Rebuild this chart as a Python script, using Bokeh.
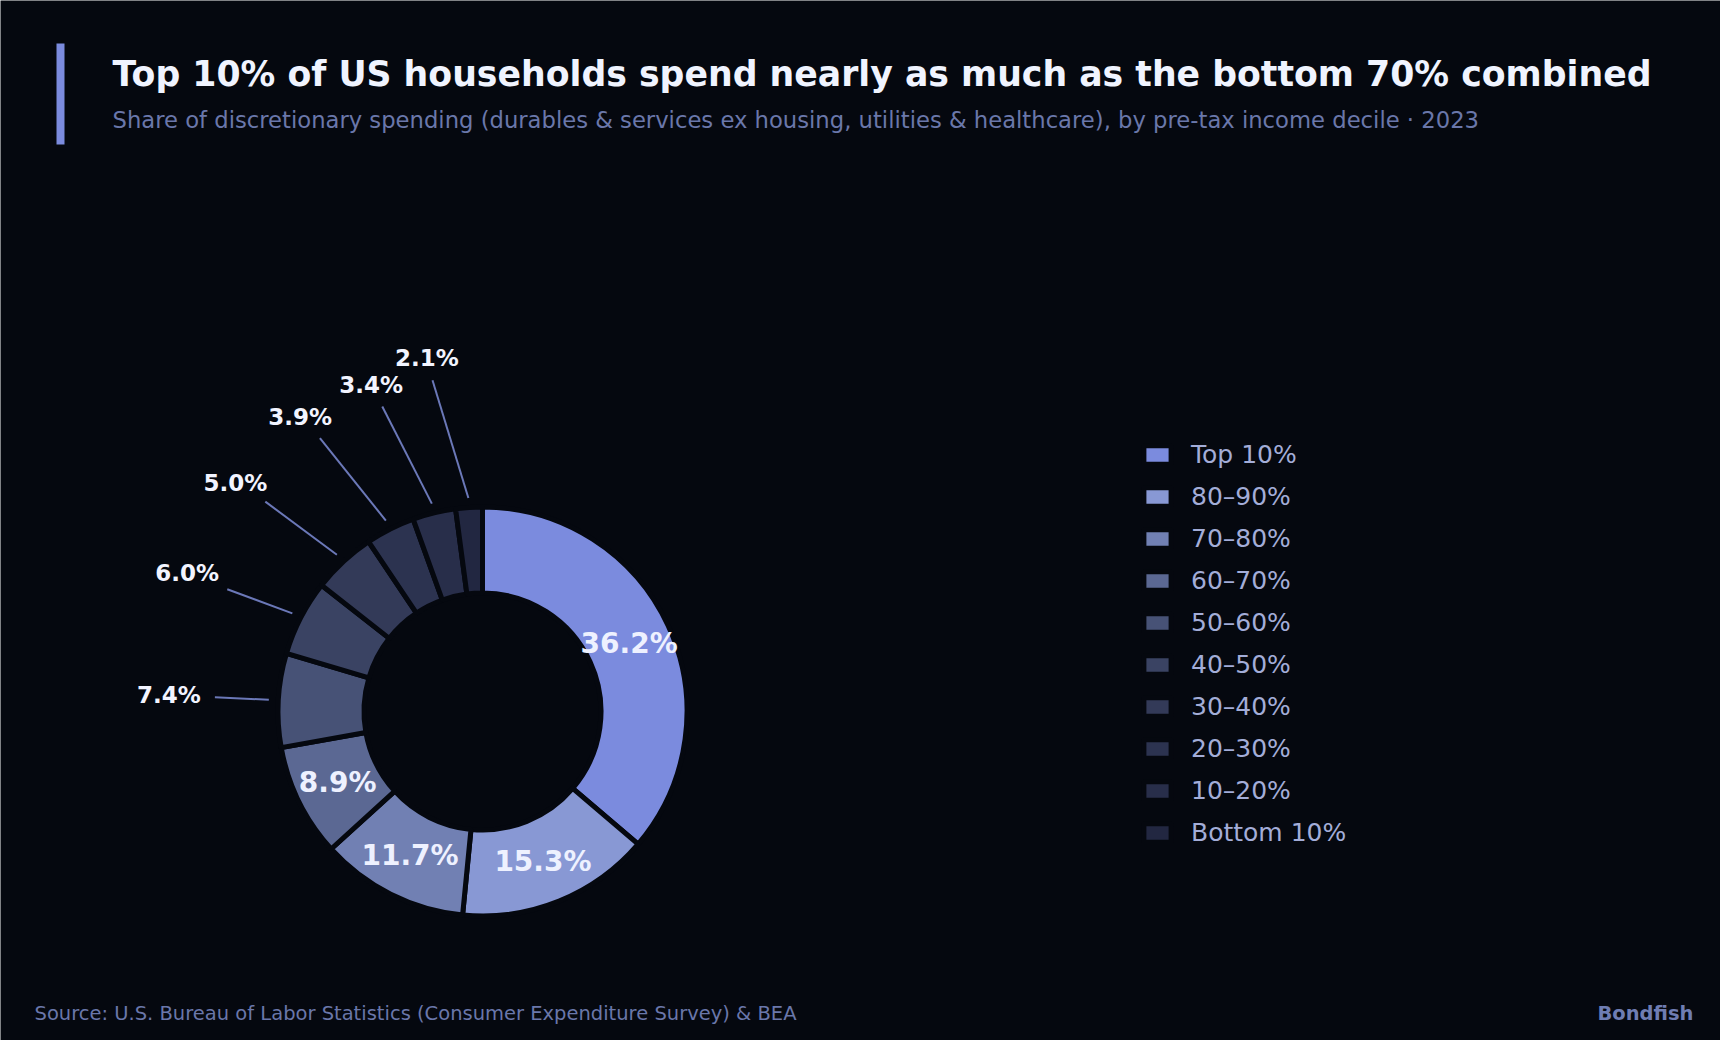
import math
from bokeh.plotting import figure
from bokeh.models import ColumnDataSource, Label, Legend, LegendItem, Range1d
from bokeh.core.properties import value
from bokeh.embed import file_html
from bokeh.resources import INLINE

# ---------------- data ----------------
categories = ["Top 10%", "80–90%", "70–80%", "60–70%", "50–60%",
              "40–50%", "30–40%", "20–30%", "10–20%", "Bottom 10%"]
shares = [36.2, 15.3, 11.7, 8.9, 7.4, 6.0, 5.0, 3.9, 3.4, 2.1]
colors = ["#7b8bde", "#8898d4", "#7180b3", "#5b6893", "#475276",
          "#3a4363", "#333a58", "#2c3350", "#282e4a", "#222741"]

TITLE = "Top 10% of US households spend nearly as much as the bottom 70% combined"
SUBTITLE = ("Share of discretionary spending (durables & services ex housing, "
            "utilities & healthcare), by pre-tax income decile · 2023")
SOURCE = "Source: U.S. Bureau of Labor Statistics (Consumer Expenditure Survey) & BEA"
BRAND = "Bondfish"

# ---------------- layout / style ----------------
W, H = 1720, 1040
BG = "#05080f"
FONT = "DejaVu Sans"
CX, CY = 482, H - 711
R_OUT, R_IN = 202, 121          # visible radii
GAP = 5
INSIDE_MIN = 8.0                # shares at or above this get an inside label
LEAD_START = 214
# outside-label leader ends (radius, angular nudge in degrees), smallest last
LEAD_END_R = [268, 283, 302, 318, 321, 335]
LEAD_NUDGE = [0.1, 1.7, 3.1, 3.9, 4.5, 4.8]
LBL_PAD, LBL_HW, LBL_HH, LBL_DX = 11, 33, 11.5, -2

total = sum(shares)
starts, ends, mids = [], [], []
acc = 0.0
for v in shares:
    a0 = math.pi / 2 - 2 * math.pi * acc / total
    acc += v
    a1 = math.pi / 2 - 2 * math.pi * acc / total
    starts.append(a0)
    ends.append(a1)
    mids.append((a0 + a1) / 2)

p = figure(width=W, height=H, x_range=Range1d(0, W), y_range=Range1d(0, H),
           output_backend="svg", toolbar_location=None, min_border=0,
           x_axis_location=None, y_axis_location=None,
           background_fill_color=BG, border_fill_color=BG, outline_line_color=None)
p.grid.visible = False

src = ColumnDataSource(dict(label=categories, value=shares, start=starts,
                            end=ends, color=colors))
wedges = p.annular_wedge(x=CX, y=CY, inner_radius=R_IN - GAP / 2,
                         outer_radius=R_OUT + GAP / 2,
                         start_angle="start", end_angle="end", direction="clock",
                         fill_color="color", line_color=BG, line_width=GAP,
                         source=src)

# inside labels
in_x, in_y, in_t = [], [], []
rmid = (R_IN + R_OUT) / 2
for v, m in zip(shares, mids):
    if v >= INSIDE_MIN:
        in_x.append(CX + rmid * math.cos(m))
        in_y.append(CY + rmid * math.sin(m))
        in_t.append(f"{v:.1f}%")
p.text(x=in_x, y=in_y, text=in_t, text_align="center", text_baseline="middle",
       text_font=value(FONT), text_font_size="28px", text_font_style="bold",
       text_color="#eef1ff")

# outside labels with leaders
x0s, y0s, x1s, y1s, tx, ty, tt = [], [], [], [], [], [], []
k = 0
for v, m in zip(shares, mids):
    if v >= INSIDE_MIN:
        continue
    x0s.append(CX + LEAD_START * math.cos(m))
    y0s.append(CY + LEAD_START * math.sin(m))
    a = m + math.radians(LEAD_NUDGE[k])
    r = LEAD_END_R[k]
    ex, ey = CX + r * math.cos(a), CY + r * math.sin(a)
    x1s.append(ex)
    y1s.append(ey)
    c, s = math.cos(a), math.sin(a)
    tx.append(ex + LBL_DX + LBL_PAD * c + LBL_HW * math.copysign(abs(c) ** 1.5, c))
    ty.append(ey + LBL_PAD * s + LBL_HH * math.copysign(min(1.0, abs(s) / 0.4), s))
    tt.append(f"{v:.1f}%")
    k += 1
p.segment(x0=x0s, y0=y0s, x1=x1s, y1=y1s, line_color="#6b78b8", line_width=2)
p.text(x=tx, y=ty, text=tt, text_align="center", text_baseline="middle",
       text_font=value(FONT), text_font_size="23px", text_font_style="bold",
       text_color="#f2f4ff")

# legend
legend = Legend(items=[LegendItem(label=c, renderers=[wedges], index=i)
                       for i, c in enumerate(categories)],
                location=(1140, 193), orientation="vertical",
                label_text_font=FONT, label_text_font_size="25px",
                label_text_color="#a3add8", glyph_width=34, glyph_height=23,
                label_standoff=17, spacing=13, padding=0, margin=0,
                background_fill_alpha=0, border_line_alpha=0)
p.add_layout(legend)

# title block
p.quad(left=56, right=64, top=H - 43, bottom=H - 144, fill_color="#7b8bde",
       line_color=None)
p.add_layout(Label(x=112, y=H - 73, text=TITLE, text_font=FONT,
                   text_font_size="34.7px", text_font_style="bold",
                   text_color="#f0f4ff", text_baseline="middle"))
p.add_layout(Label(x=112, y=H - 119.4, text=SUBTITLE, text_font=FONT,
                   text_font_size="22.7px", text_color="#6a77aa",
                   text_baseline="middle"))
p.add_layout(Label(x=34, y=H - 1012.7, text=SOURCE, text_font=FONT,
                   text_font_size="19.5px", text_color="#6a77aa",
                   text_baseline="middle"))
p.add_layout(Label(x=1693, y=H - 1012.7, text=BRAND, text_font=FONT,
                   text_font_size="19.5px", text_font_style="bold",
                   text_color="#6f7db3", text_align="right",
                   text_baseline="middle"))

open("out.html", "w").write(file_html(p, INLINE))
